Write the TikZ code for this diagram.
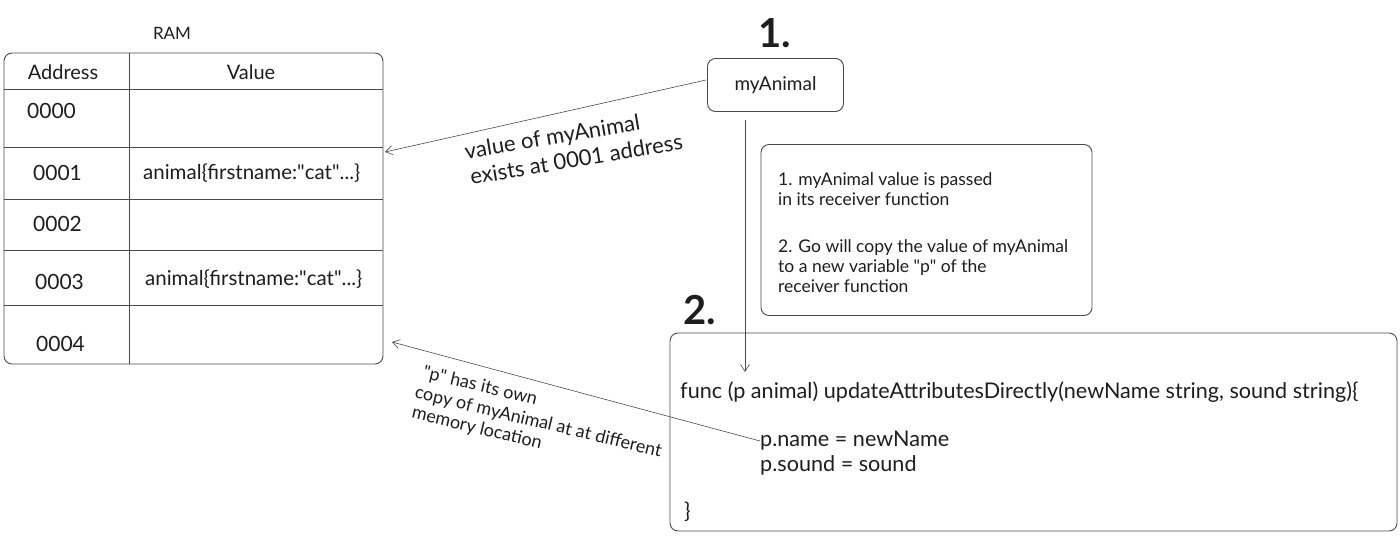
\documentclass[tikz,border=0pt]{standalone}
\usepackage{fontspec}
\setmainfont{Lato}
\usetikzlibrary{arrows.meta}
\definecolor{ink}{HTML}{1E1E1E}
\definecolor{edgegray}{HTML}{4A4A4A}
\newcommand{\dq}{\textquotedbl}
\begin{document}
\begin{tikzpicture}[x=1pt,y=-1pt,
  every node/.style={text=ink, inner sep=0pt},
  box/.style={draw=edgegray, line width=0.9pt, rounded corners=8pt, inner sep=0pt},
  gridline/.style={draw=edgegray, line width=0.8pt},
  conn/.style={draw=edgegray, line width=0.6pt, -{Straight Barb[length=7pt,width=9pt]}},
  cell/.style={font=\fontsize{21}{24}\selectfont, anchor=west},
  valcell/.style={font=\fontsize{20.5}{24}\selectfont, anchor=west},
  codetxt/.style={font=\fontsize{21.6}{25}\selectfont, anchor=west},
  lblA/.style={font=\fontsize{22}{25}\selectfont, anchor=west, rotate=9.5},
  lblB/.style={font=\fontsize{18}{22}\selectfont, anchor=west, rotate=-13.5},
  bignum/.style={font=\fontsize{40}{44}\bfseries\selectfont}]
\useasboundingbox[fill=white] (0,0) rectangle (1400,536);

% RAM table
\node[font=\fontsize{17}{20}\selectfont] (ramlbl) at (172,33) {RAM};
\node[box, minimum width=379pt, minimum height=311pt] (ram) at (193.5,208.5) {};
\foreach \yy in {89,147,199,250,305} \draw[gridline] (4,\yy) -- (383,\yy);
\draw[gridline] (129,53) -- (129,364);
\node[font=\fontsize{20}{24}\selectfont] (haddr) at (63,72) {Address};
\node[font=\fontsize{20}{24}\selectfont] (hval) at (251,72) {Value};
\node[cell] (a0) at (27,111) {0000};
\node[cell] (a1) at (33,173) {0001};
\node[cell] (a2) at (33,224) {0002};
\node[cell] (a3) at (35,282) {0003};
\node[cell] (a4) at (36,344) {0004};
\node[valcell] (v1) at (143,173) {animal\{firstname:\dq cat\dq...\}};
\node[valcell] (v3) at (145,279) {animal\{firstname:\dq cat\dq...\}};
\coordinate (t1) at (385,152);
\coordinate (t2) at (392,342);

% step numbers
\node[bignum] (n1) at (775,33) {1.};
\node[bignum] (n2) at (700,310) {2.};

% myAnimal
\node[box, minimum width=136pt, minimum height=53pt, font=\fontsize{19}{23}\selectfont] (my) at (775.5,85) {myAnimal};
\coordinate (myout) at (706,80);
\coordinate (vtop) at (745,120);
\coordinate (vend) at (745,372);

% info box
\node[box, minimum width=331pt, minimum height=171pt] (info) at (926.5,230) {};
\node[anchor=north west, align=left, font=\fontsize{17.5}{20}\selectfont] (infotxt) at (778,172)
  {1. myAnimal value is passed\\ in its receiver function\\[27pt]
   2. Go will copy the value of myAnimal\\ to a new variable \dq p\dq{} of the\\ receiver function};

% code box
\node[box, minimum width=727pt, minimum height=198pt] (code) at (1033.5,432) {};
\node[codetxt] (func) at (680,392) {func (p animal) updateAttributesDirectly(newName string, sound string)\{};
\node[codetxt] (pname) at (760,441) {p.name = newName};
\node[codetxt] (psound) at (760,465) {p.sound = sound};
\node[codetxt] (close) at (684,512) {\}};

% labels
\node[lblA] (lab1a) at (465,153) {value of myAnimal};
\node[lblA] (lab1b) at (470,177) {exists at 0001 address};
\node[lblB] (lab2a) at (423,373) {\dq p\dq{} has its own};
\node[lblB] (lab2b) at (415,393) {copy of myAnimal at at different};
\node[lblB] (lab2c) at (412,413) {memory location};

% connectors
\draw[conn] (myout) -- (t1);
\draw[conn] (vtop) -- (vend);
\draw[conn] (pname.west) -- (t2);
\end{tikzpicture}
\end{document}
